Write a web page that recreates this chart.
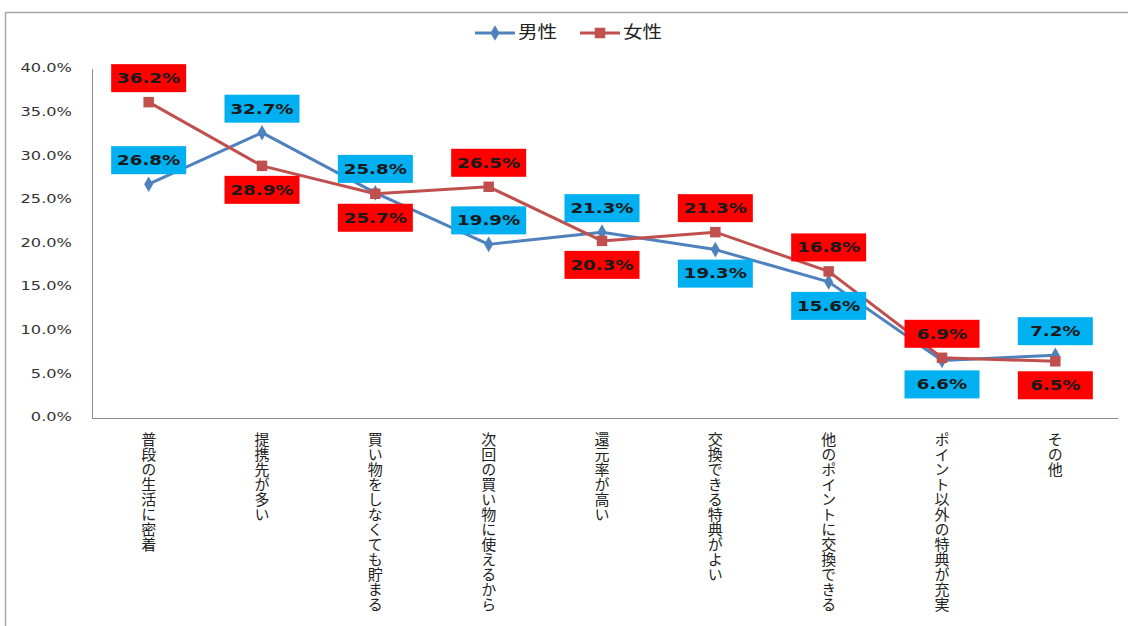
<!DOCTYPE html>
<html>
<head>
<meta charset="utf-8">
<script src="https://cdn.jsdelivr.net/npm/d3@7"></script>
<style>
  body { margin: 0; background: #fff; }
  svg { display: block; }
</style>
</head>
<body>
<div id="chart"></div>
<script>
/* 男性/女性 line chart with boxed value labels */

const categories = [
  "普段の生活に密着",
  "提携先が多い",
  "買い物をしなくても貯まる",
  "次回の買い物に使えるから",
  "還元率が高い",
  "交換できる特典がよい",
  "他のポイントに交換できる",
  "ポイント以外の特典が充実",
  "その他",
];
const male = [26.8, 32.7, 25.8, 19.9, 21.3, 19.3, 15.6, 6.6, 7.2];
const female = [36.2, 28.9, 25.7, 26.5, 20.3, 21.3, 16.8, 6.9, 6.5];
const yTicks = [0, 5, 10, 15, 20, 25, 30, 35, 40];
const seriesNames = ["男性", "女性"];

const width = 1128,
  height = 626,
  margin = { top: 69, right: 16, bottom: 208, left: 92 };

const svg = d3
  .select("#chart")
  .append("svg")
  .attr("width", width)
  .attr("height", height);

// outer frame (runs off the right and bottom edge)
svg
  .append("rect")
  .attr("x", 5.5)
  .attr("y", 12.5)
  .attr("width", width + 20)
  .attr("height", height + 20)
  .attr("fill", "none")
  .attr("stroke", "#a6a6a6")
  .attr("stroke-width", 1.5);

const x = d3
  .scalePoint()
  .domain(categories)
  .range([margin.left, width - margin.right])
  .padding(0.5);

const y = d3
  .scaleLinear()
  .domain([0, 40])
  .range([height - margin.bottom, margin.top]);

// axes lines
svg
  .append("line")
  .attr("x1", margin.left + 0.5)
  .attr("x2", margin.left + 0.5)
  .attr("y1", y(40))
  .attr("y2", y(0))
  .attr("stroke", "#8c8c8c");

svg
  .append("line")
  .attr("x1", margin.left)
  .attr("x2", width - margin.right + 6)
  .attr("y1", y(0) + 0.5)
  .attr("y2", y(0) + 0.5)
  .attr("stroke", "#8c8c8c");

// y tick labels
svg
  .append("g")
  .selectAll("text")
  .data(yTicks)
  .join("text")
  .attr("transform", (d) => `translate(72,${y(d)}) scale(1.35,1)`)
  .attr("text-anchor", "end")
  .attr("dominant-baseline", "middle")
  .attr("font-family", "DejaVu Sans, Verdana, sans-serif")
  .attr("font-size", 12)
  .attr("fill", "#333")
  .text((d) => d.toFixed(1) + "%");

// x category labels, written vertically
svg
  .append("g")
  .selectAll("text")
  .data(categories)
  .join("text")
  .attr("x", (d) => x(d))
  .attr("y", y(0) + 14)
  .style("writing-mode", "vertical-rl")
  .attr("font-family", "Noto Sans CJK JP, sans-serif")
  .attr("font-size", 15)
  .attr("fill", "#222")
  .text((d) => d);

const series = [
  { name: seriesNames[0], values: male, line: "#4f81bd", box: "#00b0f0", marker: "diamond" },
  { name: seriesNames[1], values: female, line: "#c0504d", box: "#ff0000", marker: "square" },
];

const line = d3
  .line()
  .x((d, i) => x(categories[i]))
  .y((d) => y(d));

const diamond = d3.symbol().type(d3.symbolDiamond).size(70);
const square = d3.symbol().type(d3.symbolSquare).size(110);

for (let s of series) {
  svg
    .append("path")
    .datum(s.values)
    .attr("fill", "none")
    .attr("stroke", s.line)
    .attr("stroke-width", 3)
    .attr("stroke-linejoin", "round")
    .attr("d", line);

  svg
    .append("g")
    .selectAll("path")
    .data(s.values)
    .join("path")
    .attr("transform", (d, i) => `translate(${x(categories[i])},${y(d)})`)
    .attr("d", s.marker === "diamond" ? diamond : square)
    .attr("fill", s.line);
}

// value labels: higher value goes above; if far apart, both above
for (let s of series) {
  const other = s === series[0] ? series[1].values : series[0].values;
  const g = svg.append("g");
  s.values.forEach((v, i) => {
    const o = other[i];
    const above = v >= o || o - v > 5;
    const cx = x(categories[i]);
    const cy = y(v) + (above ? -24 : 24);
    g.append("rect")
      .attr("x", cx - 37.5)
      .attr("y", cy - 14)
      .attr("width", 75)
      .attr("height", 28)
      .attr("fill", s.box);
    g.append("text")
      .attr("transform", `translate(${cx},${cy + 1}) scale(1.3,1)`)
      .attr("text-anchor", "middle")
      .attr("dominant-baseline", "middle")
      .attr("font-family", "DejaVu Sans, Verdana, sans-serif")
      .attr("font-weight", "bold")
      .attr("font-size", 14)
      .attr("fill", "#1a1a1a")
      .text(v.toFixed(1) + "%");
  });
}

// legend
const legend = svg.append("g").attr("transform", "translate(475,33)");
series.forEach((s, i) => {
  const lg = legend.append("g").attr("transform", `translate(${i * 105},0)`);
  lg.append("line")
    .attr("x1", 0)
    .attr("x2", 40)
    .attr("stroke", s.line)
    .attr("stroke-width", 3);
  lg.append("path")
    .attr("transform", "translate(20,0)")
    .attr("d", s.marker === "diamond" ? diamond : square)
    .attr("fill", s.line);
  lg.append("text")
    .attr("transform", "translate(43,0) scale(1.15,1)")
    .attr("dominant-baseline", "middle")
    .attr("font-family", "Noto Sans CJK JP, sans-serif")
    .attr("font-size", 17)
    .attr("fill", "#222")
    .text(s.name);
});
</script>
</body>
</html>
